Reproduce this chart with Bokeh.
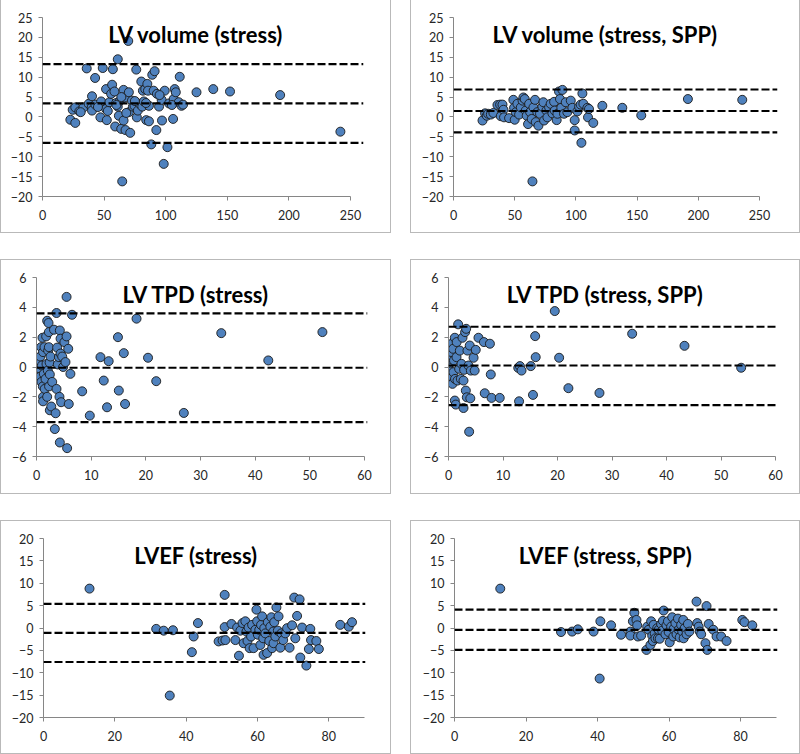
from bokeh.plotting import figure
from bokeh.layouts import row, column
from bokeh.models import Range1d, FixedTicker, Span, Label
from bokeh.embed import file_html
from bokeh.resources import INLINE

# ---------------- data ----------------
vol_stress_x = [22.6, 24.5, 26.6, 26.6, 29.9, 33.2, 35.9, 37.5, 40.2, 39.9, 40.2, 42.7, 42.9, 47.6, 47.0, 48.9,
                51.6, 51.6, 52.2, 54.3, 55.7, 56.5, 57.1, 58.4, 59.0, 59.8, 61.1, 61.1, 62.0, 63.0, 63.9, 64.7,
                65.8, 65.8, 66.6, 67.4, 69.6, 70.1, 70.1, 71.2, 72.6, 73.4, 74.7, 76.1, 76.6, 77.4, 78.8, 80.2,
                81.0, 81.5, 82.3, 83.4, 84.2, 85.1, 85.6, 86.4, 86.4, 88.3, 89.1, 90.2, 91.0, 92.4, 92.9, 94.6,
                96.7, 97.0, 98.4, 99.2, 101.4, 102.7, 106.0, 106.5, 107.3, 108.2, 110.6, 111.4, 112.8, 114.1,
                125.0, 138.6, 152.2, 192.9, 241.8,
                53.0, 60.0, 68.0, 75.0, 84.0, 95.0, 105.0, 64.0, 45.0, 31.0]
vol_stress_y = [-0.7, 1.8, 2.4, -1.5, 1.4, 2.4, 12.2, 3.3, 5.2, 2.4, 1.6, 9.8, 3.1, 3.9, -0.1, 12.3,
                2.0, 7.0, -0.8, 3.7, 5.8, 8.1, 12.0, 6.4, -2.4, 3.5, 2.6, 14.5, 0.3, 4.1, -3.0, -16.2,
                6.8, -0.9, 4.9, -3.3, 19.1, 6.2, 1.2, -4.0, 4.1, 2.6, 2.8, 11.9, -0.1, 1.6, 3.3, 8.9,
                2.6, 6.6, 3.9, 7.0, -0.8, 8.3, 6.6, 2.8, -1.1, -6.9, 10.6, 6.6, 11.5, -3.3, 5.8, 2.6,
                4.3, -0.9, -11.8, 6.6, -7.6, 3.4, -0.5, 4.5, 7.0, 6.2, 3.7, 10.1, 2.8, 3.1,
                6.2, 7.0, 6.4, 5.5, -3.7,
                1.5, 3.0, 1.0, 4.0, 3.5, 5.5, 3.0, 5.0, 2.5, 1.2]

vol_spp_x = [23.7, 25.8, 27.2, 28.3, 30.5, 32.6, 35.9, 38.1, 38.6, 40.0, 40.8, 41.3, 45.4, 48.9, 49.5, 50.0,
             50.9, 52.2, 53.6, 55.0, 56.4, 57.1, 58.2, 59.0, 59.8, 60.9, 61.8, 62.6, 63.9, 64.5, 65.3, 66.6,
             67.2, 68.5, 69.4, 70.7, 72.6, 73.4, 74.0, 75.9, 76.7, 78.1, 79.4, 80.8, 82.2, 82.7, 84.3, 84.9,
             86.2, 87.0, 88.1, 89.0, 90.3, 91.7, 93.0, 95.8, 97.1, 99.0, 99.0, 101.2, 102.6, 103.9, 104.5,
             105.3, 106.1, 109.4, 109.9, 110.7, 114.2, 121.6, 137.9, 153.4, 191.5, 235.9]
vol_spp_y = [-0.9, 0.9, 0.3, 0.8, 0.6, 1.0, 3.0, 3.1, 0.2, 3.1, 1.8, -0.1, -0.3, 4.3, 2.3, -0.7,
             1.2, 3.3, 0.6, 2.4, 4.1, 4.9, 4.5, 1.6, 0.3, -1.8, 3.3, 1.2, -0.5, -16.2, 2.4, 4.3,
             -1.3, 1.2, -2.2, 0.8, 2.6, 3.7, -0.9, 1.6, -0.1, 2.4, 3.3, 0.9, 3.8, 1.6, -0.8, 0.8,
             6.4, 4.5, 2.3, 6.8, 0.8, 3.7, 1.2, 4.1, 2.3, -0.8, -3.4, 1.4, 2.6, 3.1, -6.5,
             5.9, 3.3, 2.3, -0.1, 2.0, -1.5, 2.8, 2.3, 0.4, 4.5, 4.3]

tpd_stress_x = [0.0, 0.1, 0.2, 0.3, 0.4, 0.4, 0.5, 0.6, 0.7, 0.7, 0.85, 0.9, 1.0, 1.1, 1.16, 1.2, 1.2, 1.2,
                1.34, 1.46, 1.5, 1.65, 1.77, 1.83, 1.95, 1.95, 2.07, 2.13, 2.2, 2.26, 2.26, 2.3, 2.4, 2.44,
                2.44, 2.56, 2.7, 2.87, 3.2, 3.35, 3.5, 3.66, 3.66, 3.78, 3.9, 4.1, 4.2, 4.27, 4.27, 4.4, 4.4,
                4.5, 4.7, 4.88, 5.1, 5.3, 5.5, 5.5, 5.6, 5.8, 5.9, 6.2, 6.5, 8.35, 9.75, 11.7, 12.3, 12.9,
                13.2, 14.9, 15.06, 15.97, 16.2, 18.3, 20.4, 21.9, 26.95, 33.8, 42.4, 52.3]
tpd_stress_y = [0.0, -0.1, 0.3, 0.6, 0.26, -0.5, -0.8, -0.1, 0.7, -0.65, 1.33, -1.0, 0.1, 1.96, -1.3, 1.0, -2.0, -2.3,
                -0.46, 1.33, -1.47, -0.8, 2.05, 0.2, 3.1, -2.0, -0.24, 1.1, 2.95, 2.34, 1.33, -1.3, 0.3, -0.5,
                -2.9, 0.7, -2.65, -1.0, 2.5, -4.16, -3.1, 3.62, -1.47, 1.3, 0.17, 0.66, -2.0, 2.45, -5.06, 0.9, 1.9,
                -2.36, 0.7, 0.0, 1.67, 0.33, 4.7, 2.05, -5.44, 1.22, -2.48, -0.46, 3.5, -1.63, -3.26, 0.66, -0.91, -2.7,
                0.39, 2.0, -1.58, 0.93, -2.48, 3.24, 0.62, -0.95, -3.08, 2.27, 0.44, 2.34]

tpd_spp_x = [0.0, 0.0, 0.1, 0.25, 0.3, 0.4, 0.55, 0.6, 0.73, 0.73, 0.85, 0.9, 1.0, 1.16, 1.16, 1.2, 1.34, 1.47,
             1.5, 1.65, 1.77, 1.95, 2.08, 2.26, 2.38, 2.57, 2.75, 2.75, 2.87, 3.05, 3.18, 3.24, 3.36, 3.48, 3.67,
             3.79, 3.9, 4.0, 4.1, 4.6, 4.8, 5.0, 5.5, 6.5, 6.65, 7.6, 7.76, 7.9, 9.4, 12.8, 12.95, 13.1, 13.4,
             15.1, 15.5, 15.9, 16.0, 19.5, 20.3, 22.0, 27.7, 33.7, 43.3, 53.7]
tpd_spp_y = [0.0, -0.17, 0.2, 0.55, -1.0, -0.3, 1.0, 1.56, -0.68, -1.13, 1.22, -0.35, 0.44, -2.25, 1.96, -0.8, -2.52, 0.66,
             1.67, -0.91, 2.86, -0.12, 1.1, -0.8, 0.21, 1.96, -0.91, -2.75, -0.19, 2.34, -1.58, 2.56, -2.03, 1.1, 0.1,
             -4.34, 1.44, -2.1, -0.24, 0.62, -0.24, 1.15, 1.96, 1.67, -1.76, 1.56, -0.5, -2.07, -2.07, -0.06, -2.3, 0.06, -0.24,
             0.06, -1.87, 2.07, 0.66, 3.75, 0.62, -1.42, -1.74, 2.23, 1.42, -0.05]

ef_stress_x = [12.9, 31.6, 33.7, 36.3, 35.4, 41.6, 42.1, 43.3, 49.1, 50.2, 50.8, 50.8, 51.0, 52.7, 53.8, 54.3,
               54.8, 55.2, 55.8, 56.1, 56.6, 56.9, 57.2, 57.5, 57.8, 58.2, 58.5, 58.9, 59.4, 59.7, 59.9, 60.1,
               60.5, 60.8, 61.0, 61.3, 61.6, 61.7, 61.9, 62.2, 62.7, 62.9, 63.3, 63.6, 63.9, 64.1, 64.4, 64.5,
               64.7, 65.0, 65.3, 65.7, 65.9, 66.4, 66.7, 67.2, 67.8, 68.3, 69.0, 69.7, 70.3, 70.6, 71.1, 71.8,
               72.0, 72.5, 73.7, 74.4, 74.8, 75.0, 76.5, 77.2, 83.2, 85.6, 86.5]
ef_stress_y = [8.8, -0.2, -0.6, -0.5, -15.1, -5.4, -1.9, 1.1, -3.0, -2.8, 7.4, 0.2, -2.7, 0.9, -2.7, 0.1,
               -6.2, -0.6, 1.1, -3.4, 1.5, -0.8, -2.9, 0.1, -4.5, -1.9, 0.7, -4.5, -0.4, 4.1, 1.5, -1.5,
               -0.4, -3.8, 0.7, 2.6, -2.3, -6.0, -0.04, -1.2, -5.6, 1.3, -2.9, 0.3, 2.4, -4.5, -0.8, -3.4,
               1.3, -1.9, 4.6, -0.6, 2.6, -4.4, -1.2, -2.7, -1.2, -0.04, -4.4, 0.6, 6.8, -2.3, 2.7, 6.4,
               -6.6, 0.1, -8.4, -4.7, -0.2, -2.7, -2.9, -4.7, 0.7, 0.3, 1.3]

ef_spp_x = [12.8, 29.8, 32.9, 34.5, 38.9, 40.6, 40.8, 43.8, 46.6, 49.2, 49.2, 49.9, 50.3, 50.9, 51.1, 51.3,
            52.2, 53.7, 53.9, 54.3, 54.8, 55.0, 55.3, 55.5, 55.7, 56.0, 56.2, 56.7, 56.9, 57.1, 57.4, 57.8,
            58.1, 58.3, 58.5, 59.0, 59.3, 59.7, 59.9, 60.2, 60.6, 60.9, 61.2, 61.3, 61.8, 62.1, 62.5, 62.7,
            63.0, 63.4, 63.7, 64.0, 64.1, 64.4, 64.9, 65.3, 65.7, 67.7, 67.9, 68.3, 68.6, 69.0, 70.2, 70.5,
            70.7, 71.1, 72.4, 73.3, 74.6, 76.1, 80.5, 81.1, 83.3]
ef_spp_y = [8.8, -0.9, -0.8, -0.3, -0.8, -11.3, 1.5, 0.6, -1.5, -0.8, -1.7, 1.5, 3.4, 1.8, 0.6, -1.9,
            -1.7, -4.9, 0.3, -0.4, -3.8, 1.5, -1.7, -2.9, 0.7, -1.2, -2.3, -0.04, -2.3, -0.4, -2.4, 0.9,
            -0.6, 1.6, 3.9, -1.4, 0.6, 1.5, -0.9, -3.2, 0.3, 2.4, -1.9, -0.2, 1.1, -1.4, 2.1, -0.4,
            -2.1, 0.7, -0.8, 1.8, -2.3, -0.04, -1.4, 0.9, -0.8, 5.9, 1.1, 0.3, -0.8, -1.4, -3.4, 4.9,
            -4.9, 0.9, -0.4, -1.9, -1.9, -2.9, 1.8, 1.3, 0.6]

# limits of agreement: upper, mean, lower
vol_stress_limits = [13.3, 3.4, -6.5]
vol_spp_limits = [6.9, 1.5, -3.9]
tpd_stress_limits = [3.6, -0.05, -3.7]
tpd_spp_limits = [2.7, 0.1, -2.55]
ef_stress_limits = [5.4, -1.1, -7.6]
ef_spp_limits = [4.1, -0.4, -4.9]

titles = ["LV volume (stress)", "LV volume (stress, SPP)",
          "LV TPD (stress)", "LV TPD (stress, SPP)",
          "LVEF (stress)", "LVEF (stress, SPP)"]

vol_xticks = [0, 50, 100, 150, 200, 250]
vol_yticks = [-20, -15, -10, -5, 0, 5, 10, 15, 20, 25]
tpd_xticks = [0, 10, 20, 30, 40, 50, 60]
tpd_yticks = [-6, -4, -2, 0, 2, 4, 6]
ef_xticks = [0, 20, 40, 60, 80]
ef_yticks = [-20, -15, -10, -5, 0, 5, 10, 15, 20]

# ---------------- styling ----------------
FONT = "Lato"
AXIS_COLOR = "#868686"
LABEL_COLOR = "#262626"
FILL = "#4F81BD"
FRAME_TOP = 17
FRAME_H = 179


def panel(title, xs, ys, limits, xticks, yticks, axis_xmax, ymin, ymax,
          width, height, left, frame_w, axis_px):
    x_end = axis_xmax * frame_w / axis_px
    right = width - left - frame_w
    bottom = height - FRAME_TOP - FRAME_H
    p = figure(width=width, height=height, output_backend="svg", toolbar_location=None,
               x_range=Range1d(0, x_end), y_range=Range1d(ymin, ymax),
               min_border_left=left, min_border_right=right,
               min_border_top=FRAME_TOP, min_border_bottom=bottom,
               background_fill_color="white", border_fill_color="white",
               outline_line_color=None,
               styles={"outline": "1px solid #b9b9b9", "outline-offset": "0px"})
    p.xgrid.visible = False
    p.ygrid.visible = False
    for ax in (p.xaxis[0], p.yaxis[0]):
        ax.axis_line_color = AXIS_COLOR
        ax.major_tick_line_color = AXIS_COLOR
        ax.minor_tick_line_color = None
        ax.major_tick_out = 4
        ax.major_tick_in = 0
        ax.major_label_text_font = FONT
        ax.major_label_text_font_size = "12.5px"
        ax.major_label_text_color = LABEL_COLOR
    p.xaxis[0].ticker = FixedTicker(ticks=xticks)
    p.yaxis[0].ticker = FixedTicker(ticks=yticks)
    p.xaxis[0].bounds = (0, axis_xmax)
    p.xaxis[0].major_label_standoff = 9
    p.yaxis[0].major_label_standoff = 6

    p.scatter(xs, ys, size=9, fill_color=FILL, line_color="#1a1a1a", line_width=0.9)
    for v in limits:
        p.add_layout(Span(location=v, dimension="width", line_color="black",
                          line_width=2.2, line_dash="8 3"))

    tx = (width / 2 - left) / frame_w * x_end
    ty = ymax - (34 - FRAME_TOP) / FRAME_H * (ymax - ymin)
    p.add_layout(Label(x=tx, y=ty, text=title, text_align="center", text_baseline="alphabetic",
                       text_font=FONT, text_font_style="bold", text_font_size="22px",
                       text_color="black"))
    return p


p1 = panel(titles[0], vol_stress_x, vol_stress_y, vol_stress_limits, vol_xticks, vol_yticks,
           250, -20, 25, 389, 232, 41, 321, 308)
p2 = panel(titles[1], vol_spp_x, vol_spp_y, vol_spp_limits, vol_xticks, vol_yticks,
           250, -20, 25, 388, 232, 42, 324, 306)
p3 = panel(titles[2], tpd_stress_x, tpd_stress_y, tpd_stress_limits, tpd_xticks, tpd_yticks,
           60, -6, 6, 389, 233, 35, 331, 328)
p4 = panel(titles[3], tpd_spp_x, tpd_spp_y, tpd_spp_limits, tpd_xticks, tpd_yticks,
           60, -6, 6, 388, 233, 37, 329, 327)
p5 = panel(titles[4], ef_stress_x, ef_stress_y, ef_stress_limits, ef_xticks, ef_yticks,
           90, -20, 20, 389, 232, 42, 322, 321)
p6 = panel(titles[5], ef_spp_x, ef_spp_y, ef_spp_limits, ef_xticks, ef_yticks,
           90, -20, 20, 388, 232, 43, 323, 321.75)

layout = column(row(p1, p2, spacing=21), row(p3, p4, spacing=21), row(p5, p6, spacing=21),
                spacing=28, styles={"margin-left": "1px"})

open("out.html", "w").write(file_html(layout, INLINE))
